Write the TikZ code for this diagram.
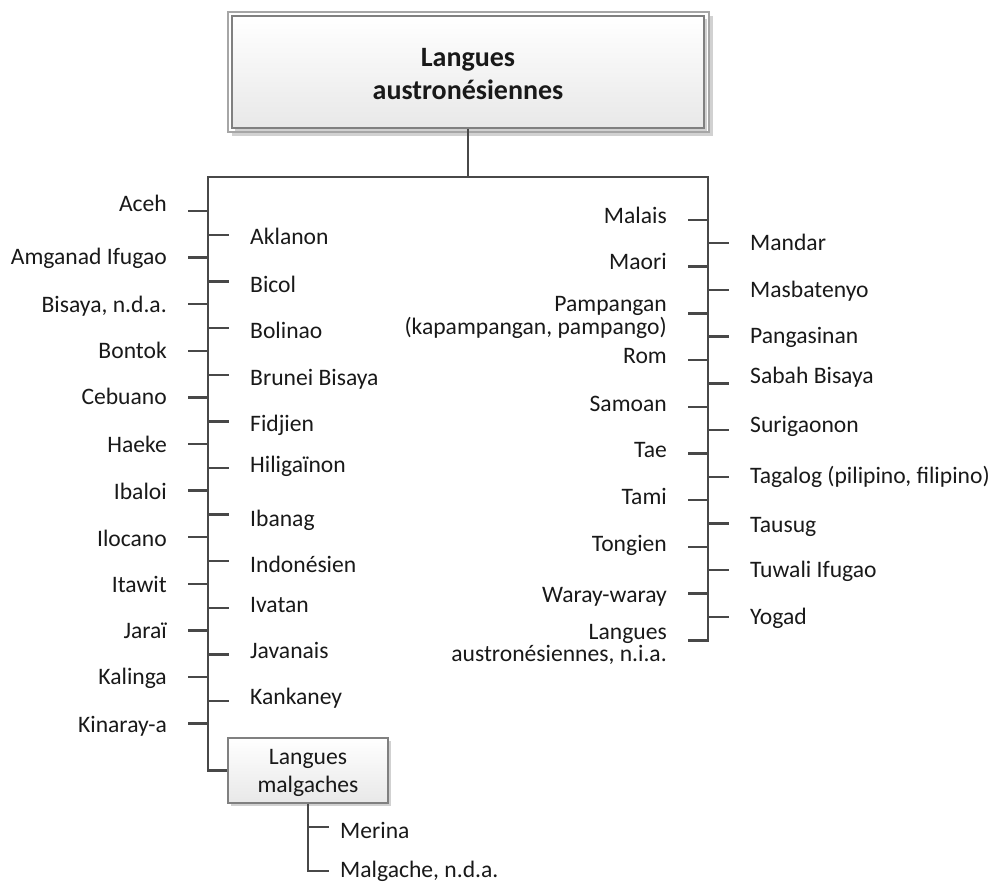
\documentclass[tikz,border=0pt]{standalone}
\usepackage{fontspec}
\setmainfont{Carlito}
\usepackage{tikz}
\usetikzlibrary{calc, shadows}
\definecolor{gristrait}{RGB}{72,72,72}
\definecolor{griscadre}{RGB}{128,128,128}
\tikzstyle{every node}=[font=\fontsize{23.6}{23.5}\selectfont, inner sep=0pt, text=black!90]
\tikzstyle{gauche}=[anchor=base east, align=right]
\tikzstyle{droite}=[anchor=base west, align=left]
\tikzstyle{trait}=[line width=2.4pt, draw=gristrait]
\tikzstyle{boite}=[draw=griscadre, line width=1.2pt, top color=white, bottom color=black!9,
	drop shadow={shadow xshift=3pt, shadow yshift=-3pt, fill=black!18, opacity=1}]

\begin{document}
\begin{tikzpicture}[x=1pt, y=-1pt]
	\useasboundingbox (0,0) rectangle (991,882);

% RACINE

	\fill[black!18] (232,16) rectangle (713,136);
	\draw[griscadre!70, line width=1.2pt, fill=white] (228,12) rectangle (709,132);
	\node[boite, drop shadow={opacity=0}, minimum width=472pt, minimum height=112pt,
		font=\fontsize{28}{33}\selectfont\bfseries, align=center]
		(racine) at (468,72) {\rule{0pt}{23pt}Langues\\austronésiennes};

	\coordinate (jonction) at (468,177);
	\coordinate (coin-g) at (208,177);
	\coordinate (coin-d) at (708,177);
	\coordinate (fin-d) at (688,640.5);

	\node[boite, minimum width=160pt, minimum height=65pt, align=center,
		font=\fontsize{23.6}{28}\selectfont]
		(malg) at (308,770.5) {\rule{0pt}{20pt}Langues\\malgaches};

% TRONCS

	\draw[trait] (racine.south) -- (jonction);
	\draw[trait] (malg.west) -| (coin-g) -- (coin-d) |- (fin-d);

	% branches gauche
	\foreach \k in {0,...,11}
		\draw[trait] ({188},{211+46.6*\k}) -- ++(20,0);
	\foreach \k in {0,...,10}
		\draw[trait] ({208},{235+46.6*\k}) -- ++(21,0);

	% branches droite
	\foreach \k in {0,...,8}
		\draw[trait] ({688},{220+46.7*\k}) -- ++(20,0);
	\foreach \k in {0,...,8}
		\draw[trait] ({708},{243.3+46.7*\k}) -- ++(21,0);

	% malgaches
	\coordinate (fin-malg) at (329,871);
	\draw[trait] (malg.south) |- (fin-malg);
	\draw[trait] (malg.south |- 0,827) -- ++(21,0);

% LANGUES

	% gauche, dehors
	\node[gauche] (aceh) at (167,212) {Aceh};
	\node[gauche] (amganad) at (167,265) {Amganad Ifugao};
	\node[gauche] (bisaya) at (167,313) {Bisaya, n.d.a.};
	\node[gauche] (bontok) at (167,359) {Bontok};
	\node[gauche] (cebuano) at (167,405) {Cebuano};
	\node[gauche] (haeke) at (167,453) {Haeke};
	\node[gauche] (ibaloi) at (167,499) {Ibaloi};
	\node[gauche] (ilocano) at (167,546) {Ilocano};
	\node[gauche] (itawit) at (167,592) {Itawit};
	\node[gauche] (jarai) at (167,638) {Jaraï};
	\node[gauche] (kalinga) at (167,684) {Kalinga};
	\node[gauche] (kinaray) at (167,732) {Kinaray-a};

	% gauche, dedans
	\node[droite] (aklanon) at (250,245) {Aklanon};
	\node[droite] (bicol) at (250,293) {Bicol};
	\node[droite] (bolinao) at (250,339) {Bolinao};
	\node[droite] (brunei) at (250,386) {Brunei Bisaya};
	\node[droite] (fidjien) at (250,432) {Fidjien};
	\node[droite] (hiligainon) at (250,473) {Hiligaïnon};
	\node[droite] (ibanag) at (250,526) {Ibanag};
	\node[droite] (indonesien) at (250,572) {Indonésien};
	\node[droite] (ivatan) at (250,612) {Ivatan};
	\node[droite] (javanais) at (250,658) {Javanais};
	\node[droite] (kankaney) at (250,704) {Kankaney};

	% droite, dedans
	\node[gauche] (malais) at (667,224) {Malais};
	\node[gauche] (maori) at (667,270) {Maori};
	\node[gauche, font=\fontsize{23.6}{23.3}\selectfont] (pampangan) at (667,335)
		{Pampangan\\(kapampangan, pampango)};
	\node[gauche] (rom) at (667,364) {Rom};
	\node[gauche] (samoan) at (667,412) {Samoan};
	\node[gauche] (tae) at (667,458) {Tae};
	\node[gauche] (tami) at (667,504) {Tami};
	\node[gauche] (tongien) at (667,551) {Tongien};
	\node[gauche] (waray) at (667,602) {Waray-waray};
	\node[gauche, font=\fontsize{23.6}{22}\selectfont] (nia) at (667,661)
		{Langues\\austronésiennes, n.i.a.};

	% droite, dehors
	\node[droite] (mandar) at (750,251) {Mandar};
	\node[droite] (masbatenyo) at (750,298) {Masbatenyo};
	\node[droite] (pangasinan) at (750,344) {Pangasinan};
	\node[droite] (sabah) at (750,384) {Sabah Bisaya};
	\node[droite] (surigaonon) at (750,433) {Surigaonon};
	\node[droite] (tagalog) at (750,483) {Tagalog (pilipino, filipino)};
	\node[droite] (tausug) at (750,532) {Tausug};
	\node[droite] (tuwali) at (750,577) {Tuwali Ifugao};
	\node[droite] (yogad) at (750,624) {Yogad};

	% malgaches
	\node[droite] (merina) at (340,838) {Merina};
	\node[droite] (malgache) at (340,877) {Malgache, n.d.a.};

\end{tikzpicture}
\end{document}
